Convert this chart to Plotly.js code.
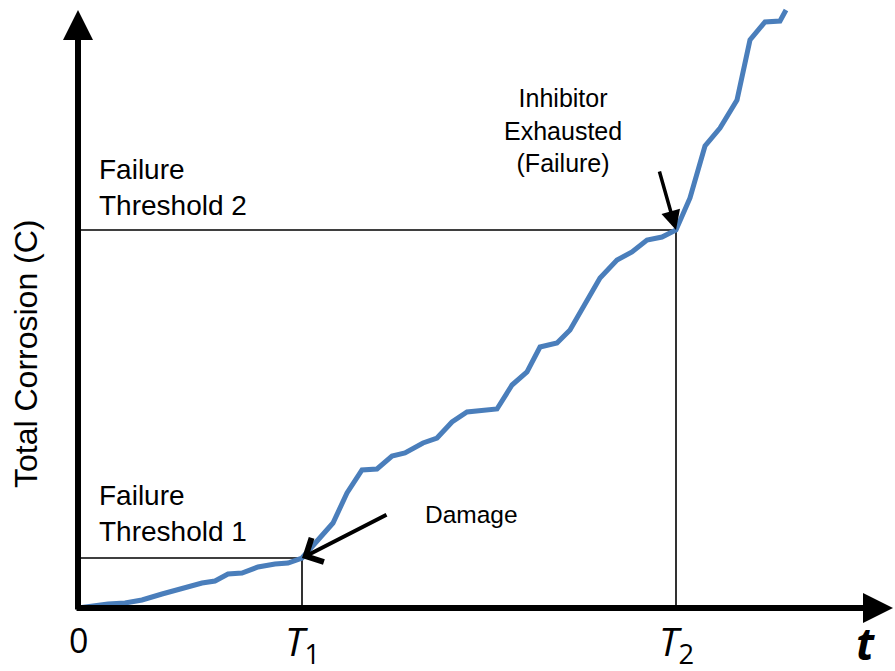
<!DOCTYPE html>
<html>
<head>
<meta charset="utf-8">
<script src="https://cdn.plot.ly/plotly-3.0.1.min.js"></script>
<style>
  html, body { margin: 0; padding: 0; background: #ffffff; }
  #chart { width: 895px; height: 671px; }
</style>
</head>
<body>
<div id="chart"></div>
<script>
// ---- data (time units and corrosion units) ----
const time = [0, 3.0, 4.7, 6.4, 8.4, 10.4, 12.4, 13.7, 15.0, 16.4, 18.0, 19.7, 21.0, 22.4,
  24.0, 25.5, 26.9, 28.4, 29.9, 31.4, 32.7, 34.5, 35.9, 37.4, 38.9, 40.4, 41.9,
  43.4, 44.9, 46.2, 47.9, 49.2, 50.9, 52.2, 53.9, 55.4, 56.9, 58.4, 59.8,
  61.2, 62.7, 64.2, 65.9, 67.2, 68.7, 70.2, 70.8];
const corrosion = [0, 0.4, 0.5, 0.8, 1.4, 2.0, 2.5, 2.7, 3.4, 3.5, 4.1, 4.4, 4.5, 5.0,
  6.8, 8.5, 11.5, 13.8, 13.9, 15.2, 15.5, 16.5, 17.0, 18.6, 19.6, 19.8, 19.9,
  22.3, 23.6, 26.1, 26.5, 27.8, 30.8, 33.0, 34.8, 35.6, 36.8, 37.1, 37.8,
  41.0, 46.2, 48.0, 50.8, 56.8, 58.6, 58.7, 59.8];

const thresholdTimes = [22.4, 59.8];      // T1, T2
const thresholdLevels = [5.0, 37.8];      // Failure threshold 1, 2
const thresholdLabels = ["Failure<br>Threshold 1", "Failure<br>Threshold 2"];
const tickValues = [0, thresholdTimes[0], thresholdTimes[1]];
const tickLabels = ["0", "<i>T</i><sub>1</sub>", "<i>T</i><sub>2</sub>"];
const xAxisLabel = "<b><i>t</i></b>";
const yAxisLabel = "Total Corrosion (C)";
const damageLabel = "Damage";
const exhaustedLabel = "Inhibitor<br>Exhausted<br>(Failure)";

// ---- traces ----
const traces = [];
thresholdTimes.forEach((T, i) => {
  traces.push({
    x: [0, T, T],
    y: [thresholdLevels[i], thresholdLevels[i], 0],
    mode: "lines",
    line: { color: "#000000", width: 1.6 },
    hoverinfo: "skip",
    showlegend: false
  });
});
traces.push({
  x: time,
  y: corrosion,
  mode: "lines",
  line: { color: "#4a7ebb", width: 5 },
  showlegend: false
});

// ---- annotations ----
const BLK = "#000000";
const ann = [];
// axes with arrow heads
ann.push({ x: 81.5, y: 0, ax: -0.3, ay: 0, axref: "x", ayref: "y", xref: "x", yref: "y",
  text: "", showarrow: true, arrowhead: 2, arrowsize: 1, arrowwidth: 6, arrowcolor: BLK });
ann.push({ x: 0, y: 59.8, ax: 0, ay: -0.3, axref: "x", ayref: "y", xref: "x", yref: "y",
  text: "", showarrow: true, arrowhead: 2, arrowsize: 1, arrowwidth: 6, arrowcolor: BLK });
// damage arrow
ann.push({ x: thresholdTimes[0], y: thresholdLevels[0], ax: 31.0, ay: 9.4, axref: "x", ayref: "y",
  xref: "x", yref: "y", text: "", showarrow: true, arrowhead: 4, arrowsize: 1.3, arrowwidth: 4, arrowcolor: BLK });
// inhibitor exhausted arrow
ann.push({ x: thresholdTimes[1], y: thresholdLevels[1], ax: 58.1, ay: 43.8, axref: "x", ayref: "y",
  xref: "x", yref: "y", text: "", showarrow: true, arrowhead: 2, arrowsize: 1.1, arrowwidth: 3.5, arrowcolor: BLK });

const txtFont = { family: "Liberation Sans, Arial, sans-serif", color: BLK };
// threshold labels
ann.push({ x: 1.9, y: 9.5, xref: "x", yref: "y", xanchor: "left", yanchor: "middle", align: "left",
  text: thresholdLabels[0], showarrow: false, font: Object.assign({ size: 28 }, txtFont) });
ann.push({ x: 1.9, y: 42.1, xref: "x", yref: "y", xanchor: "left", yanchor: "middle", align: "left",
  text: thresholdLabels[1], showarrow: false, font: Object.assign({ size: 28 }, txtFont) });
ann.push({ x: 34.5, y: 9.4, xref: "x", yref: "y", xanchor: "left", yanchor: "middle",
  text: damageLabel, showarrow: false, font: Object.assign({ size: 24.5 }, txtFont) });
ann.push({ x: 48.5, y: 47.8, xref: "x", yref: "y", xanchor: "center", yanchor: "middle", align: "center",
  text: exhaustedLabel, showarrow: false, font: Object.assign({ size: 25 }, txtFont) });
// y axis title
ann.push({ x: -5.2, y: 25.4, xref: "x", yref: "y", xanchor: "center", yanchor: "middle", textangle: -90,
  text: yAxisLabel, showarrow: false, font: Object.assign({ size: 32 }, txtFont) });
// tick labels
const tickFont = { family: "Open Sans, Noto Sans, sans-serif", color: BLK };
tickValues.forEach((v, i) => {
  ann.push({ x: v, y: i === 0 ? -3.2 : -3.5, xref: "x", yref: "y", xanchor: "center", yanchor: "middle",
    text: tickLabels[i], showarrow: false, font: Object.assign({ size: i === 0 ? 34 : 39 }, tickFont) });
});
ann.push({ x: 78.7, y: -3.5, xref: "x", yref: "y", xanchor: "center", yanchor: "middle",
  text: xAxisLabel, showarrow: false, font: Object.assign({ size: 44 }, tickFont) });

const layout = {
  width: 895, height: 671,
  margin: { l: 0, r: 0, t: 0, b: 0, pad: 0 },
  paper_bgcolor: "#ffffff", plot_bgcolor: "#ffffff",
  xaxis: { range: [-7.8, 81.7], visible: false, fixedrange: true },
  yaxis: { range: [-6.3, 60.8], visible: false, fixedrange: true },
  annotations: ann,
  showlegend: false
};

Plotly.newPlot("chart", traces, layout, { displayModeBar: false, staticPlot: true });
</script>
</body>
</html>
